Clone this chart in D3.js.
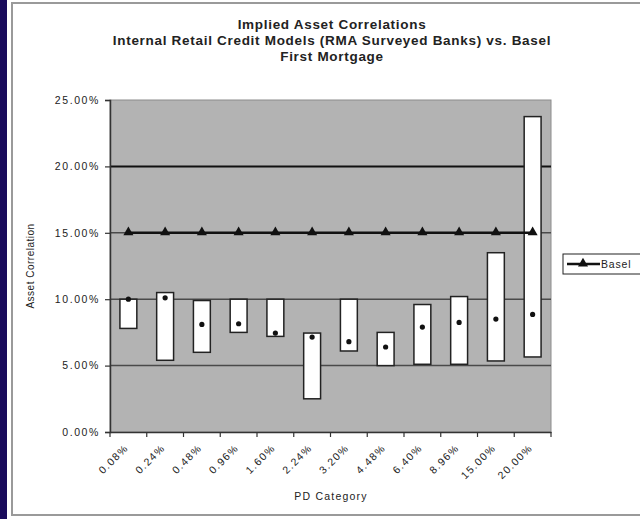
<!DOCTYPE html>
<html>
<head>
<meta charset="utf-8">
<script src="https://cdn.jsdelivr.net/npm/d3@7"></script>
<style>
  html, body { margin: 0; padding: 0; background: #fff; }
  svg { display: block; }
  text { font-family: "Liberation Sans", Arial, sans-serif; fill: #222; }
</style>
</head>
<body>
<svg id="chart" width="640" height="519"></svg>
<script>
// ---- Data ----
const categories = ["0.08%", "0.24%", "0.48%", "0.96%", "1.60%", "2.24%", "3.20%", "4.48%", "6.40%", "8.96%", "15.00%", "20.00%"];
const rangeLow  = [7.8, 5.4, 6.0, 7.5, 7.2, 2.5, 6.1, 5.0, 5.1, 5.1, 5.35, 5.65];
const rangeHigh = [10.0, 10.5, 9.9, 10.0, 10.0, 7.45, 10.0, 7.5, 9.6, 10.2, 13.5, 23.75];
const midValue  = [10.0, 10.1, 8.1, 8.15, 7.45, 7.15, 6.8, 6.4, 7.9, 8.25, 8.5, 8.85];
const basel     = [15, 15, 15, 15, 15, 15, 15, 15, 15, 15, 15, 15];
const yTicks    = [0, 5, 10, 15, 20, 25];
const titleLines = [
  "Implied Asset Correlations",
  "Internal Retail Credit Models (RMA Surveyed Banks) vs. Basel",
  "First Mortgage"
];

const svg = d3.select("#chart");

// page frame
svg.append("rect").attr("x", 0).attr("y", 0).attr("width", 640).attr("height", 519).attr("fill", "#fff");
svg.append("rect").attr("x", 0).attr("y", 0).attr("width", 7).attr("height", 519).attr("fill", "#1a0b5c");
svg.append("rect").attr("x", 12).attr("y", 3).attr("width", 640).attr("height", 512)
  .attr("fill", "#fff").attr("stroke", "#9a9a9a").attr("stroke-width", 2);

const plot = { left: 110, right: 551, top: 100, bottom: 432 };

const x = d3.scaleBand().domain(categories).range([plot.left, plot.right]).paddingInner(0).paddingOuter(0);
const y = d3.scaleLinear().domain([0, 25]).range([plot.bottom, plot.top]);

// plot background
svg.append("rect")
  .attr("x", plot.left).attr("y", plot.top)
  .attr("width", plot.right - plot.left).attr("height", plot.bottom - plot.top)
  .attr("fill", "#b3b3b3").attr("stroke", "#8c8c8c").attr("stroke-width", 1);

// gridlines
svg.append("g").selectAll("line").data(yTicks.filter(d => d > 0 && d < 25)).join("line")
  .attr("x1", plot.left).attr("x2", plot.right)
  .attr("y1", d => y(d)).attr("y2", d => y(d))
  .attr("stroke", d => d === 20 ? "#111" : "#4a4a4a")
  .attr("stroke-width", d => d === 20 ? 2 : 1.5);

// y axis
const yAxis = d3.axisLeft(y).tickValues(yTicks).tickSize(5).tickPadding(5)
  .tickFormat(d => d.toFixed(2) + "%");
const gy = svg.append("g").attr("transform", `translate(${plot.left},0)`).call(yAxis);
gy.select(".domain").attr("stroke", "#333").attr("stroke-width", 1.5);
gy.selectAll(".tick line").attr("stroke", "#333").attr("stroke-width", 1.2);
gy.selectAll(".tick text").attr("font-size", 10.5).attr("letter-spacing", "1.6px").attr("fill", "#333")
  .attr("font-family", "Liberation Sans, Arial, sans-serif");

// x axis
const xAxis = d3.axisBottom(x).tickSize(0).tickSizeOuter(0);
const gx = svg.append("g").attr("transform", `translate(0,${plot.bottom})`).call(xAxis);
gx.select(".domain").attr("stroke", "#333").attr("stroke-width", 1.5);
gx.selectAll(".tick text")
  .attr("font-size", 10.5).attr("letter-spacing", "1.4px").attr("fill", "#333")
  .attr("font-family", "Liberation Sans, Arial, sans-serif")
  .attr("text-anchor", "end")
  .attr("x", 0).attr("y", 0).attr("dy", "0.35em")
  .attr("transform", "translate(-2,14) rotate(-45)");
// boundary tick marks
const bounds = categories.map(c => x(c)).concat([x.range()[1]]);
svg.append("g").selectAll("line").data(bounds).join("line")
  .attr("x1", d => d).attr("x2", d => d)
  .attr("y1", plot.bottom).attr("y2", plot.bottom + 5)
  .attr("stroke", "#333").attr("stroke-width", 1.2);

// floating range bars
const bw = x.bandwidth() * 0.46;
svg.append("g").selectAll("rect").data(categories).join("rect")
  .attr("x", d => x(d) + x.bandwidth() / 2 - bw / 2)
  .attr("width", bw)
  .attr("y", (d, i) => y(rangeHigh[i]))
  .attr("height", (d, i) => y(rangeLow[i]) - y(rangeHigh[i]))
  .attr("fill", "#fff").attr("stroke", "#222").attr("stroke-width", 1.5);

// mid dots
svg.append("g").selectAll("circle").data(categories).join("circle")
  .attr("cx", d => x(d) + x.bandwidth() / 2)
  .attr("cy", (d, i) => y(midValue[i]))
  .attr("r", 2.6).attr("fill", "#111");

// Basel line
const line = d3.line().x((d, i) => x(categories[i]) + x.bandwidth() / 2).y(d => y(d));
svg.append("path").datum(basel).attr("d", line)
  .attr("fill", "none").attr("stroke", "#111").attr("stroke-width", 2.5);
const tri = d3.symbol().type(d3.symbolTriangle).size(44);
svg.append("g").selectAll("path").data(basel).join("path")
  .attr("d", tri)
  .attr("transform", (d, i) => `translate(${x(categories[i]) + x.bandwidth() / 2},${y(d) - 0.5})`)
  .attr("fill", "#111");

// title
svg.append("g").selectAll("text").data(titleLines).join("text")
  .attr("x", 332).attr("y", (d, i) => 29 + i * 16)
  .attr("text-anchor", "middle").attr("font-size", 13.5).attr("font-weight", "bold")
  .attr("letter-spacing", "0.7px").attr("fill", "#333")
  .text(d => d);

// axis titles
svg.append("text")
  .attr("transform", "translate(34,266) rotate(-90)")
  .attr("text-anchor", "middle").attr("font-size", 10).attr("letter-spacing", "0.5px").attr("fill", "#333")
  .text("Asset Correlation");
svg.append("text")
  .attr("x", 331).attr("y", 500)
  .attr("text-anchor", "middle").attr("font-size", 10.5).attr("letter-spacing", "1.2px").attr("fill", "#333")
  .text("PD Category");

// legend
const lg = svg.append("g");
lg.append("rect").attr("x", 563).attr("y", 254).attr("width", 100).attr("height", 20)
  .attr("fill", "#fff").attr("stroke", "#222").attr("stroke-width", 1);
lg.append("line").attr("x1", 567).attr("x2", 600).attr("y1", 264).attr("y2", 264)
  .attr("stroke", "#111").attr("stroke-width", 2.5);
lg.append("path").attr("d", tri).attr("transform", "translate(583,263.5)").attr("fill", "#111");
lg.append("text").attr("x", 601).attr("y", 268).attr("font-size", 10.5).attr("letter-spacing", "0.8px")
  .attr("fill", "#444").text("Basel");
</script>
</body>
</html>
